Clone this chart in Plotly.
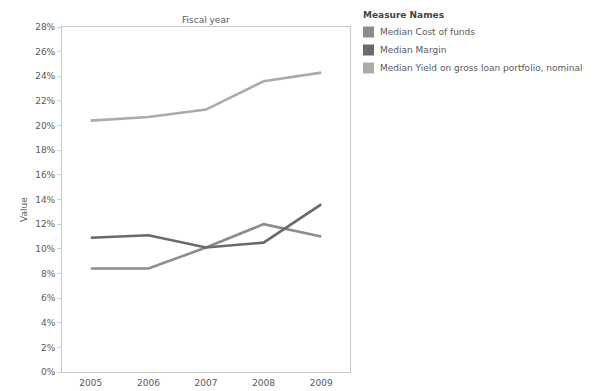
import plotly.graph_objects as go

years = ["2005", "2006", "2007", "2008", "2009"]
cost_of_funds = [8.4, 8.4, 10.1, 12.0, 11.0]
margin = [10.9, 11.1, 10.1, 10.5, 13.6]
yield_nominal = [20.4, 20.7, 21.3, 23.6, 24.3]

series_names = ["Median Cost of funds", "Median Margin", "Median Yield on gross loan portfolio, nominal"]
series_values = [cost_of_funds, margin, yield_nominal]
colors = ["#8c8c8c", "#6a6a6a", "#ababab"]

y_ticks = list(range(0, 29, 2))
y_ticktext = [f"{v}%" for v in y_ticks]

W, H = 598, 391
L, R, T, B = 62, 248, 27, 19
pw, ph = W - L - R, H - T - B


def px(x):
    return (x - L) / pw


def py(y):
    return (H - B - y) / ph


fig = go.Figure()
for name, vals, col in zip(series_names, series_values, colors):
    fig.add_trace(go.Scatter(x=years, y=vals, mode="lines", name=name,
                             line=dict(color=col, width=2.6), showlegend=False))

txt = "#5a5a5a"
fam = "DejaVu Sans, Verdana, sans-serif"
fs = 9
font = dict(family=fam, size=fs, color=txt)

shapes = []
annotations = [dict(text="Fiscal year", x=0.5, y=py(13), xref="paper", yref="paper",
                    showarrow=False, font=dict(family=fam, size=fs, color=txt)),
               dict(text="<b>Measure Names</b>", x=px(361), y=py(15), xref="paper", yref="paper",
                    xanchor="left", yanchor="middle", showarrow=False,
                    font=dict(family=fam, size=fs, color="#444444")),
               dict(text="Value", x=px(17), y=py(210), xref="paper", yref="paper",
                    textangle=-90, showarrow=False, font=dict(family=fam, size=fs, color=txt))]
for i, (name, col) in enumerate(zip(series_names, colors)):
    cy = 32 + 18 * i
    shapes.append(dict(type="rect", xref="paper", yref="paper",
                       x0=px(363), x1=px(374), y0=py(cy - 5.5), y1=py(cy + 5.5),
                       fillcolor=col, line=dict(width=0)))
    annotations.append(dict(text=name, x=px(378), y=py(cy), xref="paper", yref="paper",
                            xanchor="left", yanchor="middle", showarrow=False,
                            font=dict(family=fam, size=fs, color=txt)))

fig.update_layout(
    width=W, height=H,
    margin=dict(l=L, r=R, t=T, b=B),
    paper_bgcolor="white", plot_bgcolor="white",
    font=font,
    showlegend=False,
    xaxis=dict(type="category", showgrid=False, zeroline=False, automargin=False,
               showline=True, linecolor="#c8c8c8", linewidth=1, mirror=True,
               ticks="", tickfont=dict(family=fam, size=fs, color=txt), ticklabelstandoff=2,
               range=[-0.5, 4.5]),
    yaxis=dict(range=[0, 28], tickvals=y_ticks, ticktext=y_ticktext, automargin=False,
               showgrid=False, zeroline=False, showline=True, linecolor="#c8c8c8",
               linewidth=1, mirror=True, ticks="outside", ticklen=4, tickcolor="#d0d0d0",
               tickfont=dict(family=fam, size=fs, color=txt)),
    shapes=shapes,
    annotations=annotations,
)

fig.write_html("out.html")
